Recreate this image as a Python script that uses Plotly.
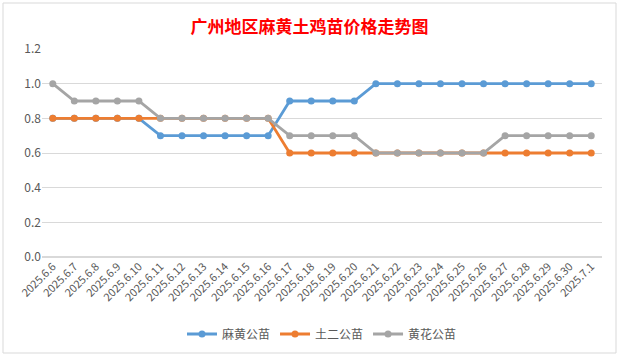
import plotly.graph_objects as go

dates = ["2025.6.6", "2025.6.7", "2025.6.8", "2025.6.9", "2025.6.10", "2025.6.11", "2025.6.12",
         "2025.6.13", "2025.6.14", "2025.6.15", "2025.6.16", "2025.6.17", "2025.6.18", "2025.6.19",
         "2025.6.20", "2025.6.21", "2025.6.22", "2025.6.23", "2025.6.24", "2025.6.25", "2025.6.26",
         "2025.6.27", "2025.6.28", "2025.6.29", "2025.6.30", "2025.7.1"]
mahuang = [0.8, 0.8, 0.8, 0.8, 0.8, 0.7, 0.7, 0.7, 0.7, 0.7, 0.7, 0.9, 0.9, 0.9, 0.9,
           1.0, 1.0, 1.0, 1.0, 1.0, 1.0, 1.0, 1.0, 1.0, 1.0, 1.0]
tuer = [0.8, 0.8, 0.8, 0.8, 0.8, 0.8, 0.8, 0.8, 0.8, 0.8, 0.8, 0.6, 0.6, 0.6, 0.6,
        0.6, 0.6, 0.6, 0.6, 0.6, 0.6, 0.6, 0.6, 0.6, 0.6, 0.6]
huanghua = [1.0, 0.9, 0.9, 0.9, 0.9, 0.8, 0.8, 0.8, 0.8, 0.8, 0.8, 0.7, 0.7, 0.7, 0.7,
            0.6, 0.6, 0.6, 0.6, 0.6, 0.6, 0.7, 0.7, 0.7, 0.7, 0.7]
series = [("麻黄公苗", mahuang, "#5B9BD5"), ("土二公苗", tuer, "#ED7D31"), ("黄花公苗", huanghua, "#A5A5A5")]
y_ticks = [0.0, 0.2, 0.4, 0.6, 0.8, 1.0, 1.2]

font = "Noto Sans CJK SC"
fig = go.Figure()
for name, vals, col in series:
    fig.add_trace(go.Scatter(x=dates, y=vals, name=name, mode="lines+markers",
                             line=dict(color=col, width=2.8),
                             marker=dict(color=col, size=7)))

W, H = 619, 356
L, R, T, B = 42, 17, 49, 99
pw, ph = W - L - R, H - T - B

def px(x):
    return (x - L) / pw

def py(y):
    return (H - B - y) / ph

fig.update_layout(
    width=W, height=H,
    margin=dict(l=L, r=R, t=T, b=B, autoexpand=False),
    paper_bgcolor="white", plot_bgcolor="white",
    font=dict(family=font, color="#595959", size=12),
    title=dict(text="<b>广州地区麻黄土鸡苗价格走势图</b>", x=0.5, xanchor="center",
               y=1 - 27 / H, yanchor="middle",
               font=dict(family=font, size=17, color="#FF0000")),
    xaxis=dict(type="category", range=[-0.5, len(dates) - 0.5], tickangle=-45,
               automargin=False,
               showgrid=False, showline=False, ticks="", tickfont=dict(size=11, color="#595959")),
    yaxis=dict(range=[0, 1.2], tickvals=y_ticks, ticktext=[f"{v:.1f}" for v in y_ticks],
               automargin=False,
               showgrid=True, gridcolor="#D9D9D9", gridwidth=1, zeroline=True,
               zerolinecolor="#D9D9D9", showline=False, ticks="", ticklen=6,
               tickfont=dict(size=12, color="#595959")),
    legend=dict(orientation="h", x=0.5, xanchor="center", y=py(334), yanchor="middle",
                font=dict(size=12, color="#595959"), itemwidth=30, tracegroupgap=0),
    showlegend=True,
    shapes=[dict(type="rect", xref="paper", yref="paper",
                 x0=px(3), x1=px(616), y0=py(353), y1=py(3),
                 line=dict(color="#D9D9D9", width=1), layer="below")],
)
fig.write_html("out.html", config={"displayModeBar": False},
               post_script="document.body.style.margin='0';document.body.style.overflow='hidden';")
